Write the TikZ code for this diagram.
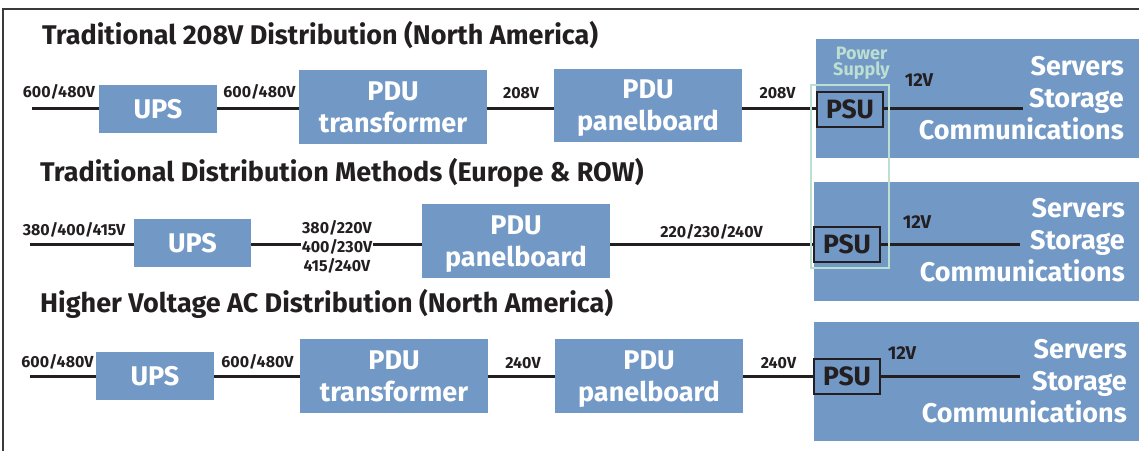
\documentclass[tikz,border=0pt]{standalone}
\usepackage{fontspec}
\setmainfont{Fira Sans}
\definecolor{boxblue}{HTML}{7298C6}
\definecolor{txt}{HTML}{231F20}
\definecolor{psgreen}{HTML}{BCDFD1}
\definecolor{frame}{HTML}{3A3A3A}
\tikzset{
  box/.style={fill=boxblue, draw=none, text=white, align=center, inner sep=0pt,
    text depth=0pt, font=\bfseries\fontsize{27}{32}\selectfont},
  srvbox/.style={fill=boxblue, draw=none, inner sep=0pt},
  psubox/.style={draw=txt, line width=1.4pt, inner sep=0pt, text=txt,
    text depth=0pt, font=\bfseries\fontsize{26.5}{32}\selectfont},
  wire/.style={draw=txt, line width=2.8pt},
  lbl/.style={text=txt, inner sep=0pt, font=\bfseries\fontsize{16}{19}\selectfont},
  vlbl/.style={text=txt, inner sep=0pt, font=\bfseries\fontsize{18.5}{19}\selectfont},
  ttl/.style={text=txt, inner sep=0pt, font=\bfseries\fontsize{27}{30}\selectfont},
  srvtxt/.style={text=white, inner sep=0pt, align=right,
    font=\bfseries\fontsize{27}{32}\selectfont},
  pstxt/.style={text=psgreen, inner sep=0pt, align=center,
    font=\bfseries\fontsize{18}{16.5}\selectfont},
  grect/.style={draw=psgreen, line width=2.2pt}
}
\begin{document}
\begin{tikzpicture}[x=1pt,y=-1pt]
\useasboundingbox (0,0) rectangle (1139,451);
% frame
\draw[frame, line width=1.5pt] (3,451) -- (3,9) -- (1139.5,9);

% ---------------- Row 1 ----------------
\node[ttl, anchor=base west] (t1) at (42,44) {Traditional 208V Distribution (North America)};
\node[srvbox, minimum width=323, minimum height=119] (srv1) at (977.5,98.5) {};
\node[box, minimum width=118, minimum height=48] (ups1) at (158,109) {UPS};
\node[box, minimum width=188, minimum height=74] (pdt1) at (393,107) {PDU\\transformer};
\node[box, minimum width=188, minimum height=73] (pnl1) at (648,105.5) {PDU\\panelboard};
\node[psubox, minimum width=66, minimum height=35] (psu1) at (850,109.5) {PSU};
\coordinate (in1) at (32,108.5);
\coordinate (out1) at (1023,108.5);
\draw[wire] (in1) -- (in1 -| ups1.west);
\draw[wire] (ups1.east |- in1) -- (in1 -| pdt1.west);
\draw[wire] (pdt1.east |- in1) -- (in1 -| pnl1.west);
\draw[wire] (pnl1.east |- in1) -- (in1 -| psu1.west);
\draw[wire] (psu1.east |- in1) -- (out1);
\node[lbl, anchor=base] (l11) at (59,97) {600/480V};
\node[lbl, anchor=base] (l12) at (259.5,97) {600/480V};
\node[lbl, anchor=base] (l13) at (521,98) {208V};
\node[lbl, anchor=base] (l14) at (777.5,98) {208V};
\node[vlbl, anchor=base] (v1) at (919,86) {12V};
\node[srvtxt, anchor=north east] (s1) at (1124,56) {Servers\\Storage\\Communications};
\node[pstxt, anchor=north] (ps) at (861.5,46.5) {Power\\Supply};

% ---------------- Row 2 ----------------
\node[ttl, anchor=base west] (t2) at (40,181) {Traditional Distribution Methods (Europe \& ROW)};
\node[srvbox, minimum width=325, minimum height=119] (srv2) at (976.5,241) {};
\node[box, minimum width=117, minimum height=48] (ups2) at (192.5,243) {UPS};
\node[box, minimum width=188, minimum height=74] (pnl2) at (516,241) {PDU\\panelboard};
\node[psubox, minimum width=66, minimum height=35] (psu2) at (847,244.5) {PSU};
\node[lbl, align=center] (l22) at (337,247) {380/220V\\400/230V\\415/240V};
\coordinate (in2) at (30,244.5);
\coordinate (out2) at (1020,244.5);
\draw[wire] (in2) -- (in2 -| ups2.west);
\draw[wire] (ups2.east |- in2) -- ([xshift=-1pt]in2 -| l22.west);
\draw[wire] ([xshift=1pt]l22.east |- in2) -- (in2 -| pnl2.west);
\draw[wire] (pnl2.east |- in2) -- (in2 -| psu2.west);
\draw[wire] (psu2.east |- in2) -- (out2);
\node[lbl, anchor=base] (l21) at (74,235) {380/400/415V};
\node[lbl, anchor=base] (l23) at (711.5,237) {220/230/240V};
\node[vlbl, anchor=base] (v2) at (917,228) {12V};
\node[srvtxt, anchor=north east] (s2) at (1125,198) {Servers\\Storage\\Communications};

% ---------------- Row 3 ----------------
\node[ttl, anchor=base west] (t3) at (40,312) {Higher Voltage AC Distribution (North America)};
\node[srvbox, minimum width=325, minimum height=119] (srv3) at (976.5,381.5) {};
\node[box, minimum width=118, minimum height=48] (ups3) at (155,376) {UPS};
\node[box, minimum width=188, minimum height=74] (pdt3) at (394,376) {PDU\\transformer};
\node[box, minimum width=188, minimum height=74] (pnl3) at (649,376) {PDU\\panelboard};
\node[psubox, minimum width=66, minimum height=35] (psu3) at (847,376.5) {PSU};
\coordinate (in3) at (30,376.5);
\coordinate (out3) at (1020,376.5);
\draw[wire] (in3) -- (in3 -| ups3.west);
\draw[wire] (ups3.east |- in3) -- (in3 -| pdt3.west);
\draw[wire] (pdt3.east |- in3) -- (in3 -| pnl3.west);
\draw[wire] (pnl3.east |- in3) -- (in3 -| psu3.west);
\draw[wire] (psu3.east |- in3) -- (out3);
\node[lbl, anchor=base] (l31) at (57.5,367) {600/480V};
\node[lbl, anchor=base] (l32) at (257.5,367) {600/480V};
\node[lbl, anchor=base] (l33) at (523,368) {240V};
\node[lbl, anchor=base] (l34) at (778.5,368) {240V};
\node[vlbl, anchor=base] (v3) at (902,359) {12V};
\node[srvtxt, anchor=north east] (s3) at (1127,339) {Servers\\Storage\\Communications};

% power supply grouping rectangle
\draw[grect] (811,85) rectangle (889,268);
\end{tikzpicture}
\end{document}
